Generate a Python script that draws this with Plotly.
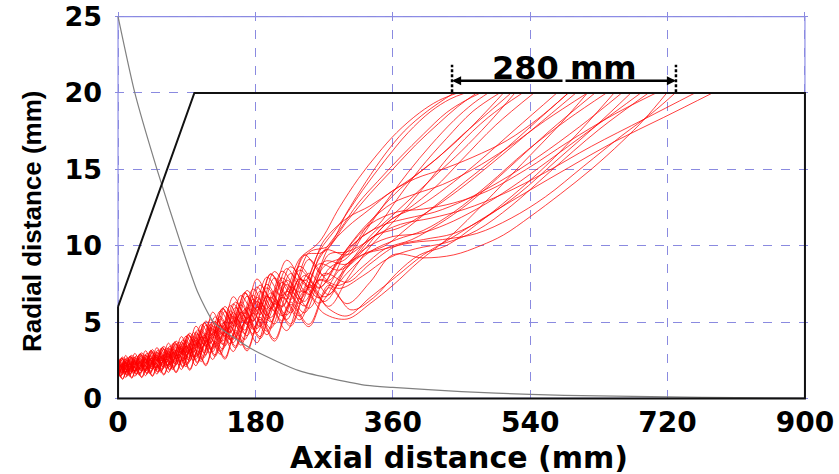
import plotly.graph_objects as go

# ---------------- data ----------------
X_TICKS = [0, 180, 360, 540, 720, 900]
Y_TICKS = [0, 5, 10, 15, 20, 25]

# guide wall (boundary) of the device
WALL_X = [0, 100, 900, 900, 0, 0]
WALL_Y = [6, 20, 20, 0, 0, 6]

# grey decaying profile
PROFILE_X = [0, 22, 51, 83, 104, 125, 151, 180, 238, 326, 360, 450, 540, 630, 720, 810, 900]
PROFILE_Y = [25, 20, 15, 10, 7.0, 5.0, 4.0, 3.1, 1.8, 0.85, 0.72, 0.45, 0.26, 0.16, 0.10, 0.05, 0.02]

# early (gyrating) part of the trajectories: positions of the wiggle extrema
GRID_A = [0, 6, 12, 18, 24, 31, 38, 45, 52, 60, 68, 76, 85, 94, 104, 115, 127, 140, 154, 169, 186, 205, 226, 250, 276]
GRID_B = [0, 3, 9, 15, 21, 28, 35, 42, 49, 56, 64, 72, 80, 89, 99, 109, 121, 134, 147, 161, 177, 195, 215, 238, 263]
GRID_C = [0, 5, 10, 16, 22, 29, 36, 43, 51, 58, 66, 74, 83, 92, 102, 113, 124, 137, 151, 166, 182, 200, 221, 244, 270]

TRAJ_GRID = ["A", "B", "C", "A", "B", "C", "A", "B", "C", "A",
             "B", "C", "A", "B", "C", "A", "B", "C", "A", "B",
             "C", "A", "B", "C", "A", "B", "C", "A", "B", "C"]

TRAJ_EARLY_Y = [
    [2.11, 2.71, 2.17, 2.83, 2.30, 2.99, 2.41, 3.20, 2.57, 3.41, 2.76, 3.76, 3.08, 4.28, 3.55, 5.07, 4.25, 6.02, 5.04, 7.07, 5.89, 8.31, 6.91, 9.55, 10.0],
    [2.53, 1.93, 2.59, 2.04, 2.70, 2.14, 2.85, 2.28, 3.04, 2.43, 3.31, 2.66, 3.70, 2.98, 4.32, 3.50, 5.15, 4.19, 6.08, 4.97, 7.16, 5.85, 8.33, 6.95, 9.58],
    [1.99, 2.65, 2.05, 2.77, 2.17, 2.91, 2.27, 3.13, 2.42, 3.33, 2.59, 3.67, 2.89, 4.18, 3.33, 4.95, 3.98, 5.88, 4.73, 6.90, 5.53, 8.13, 6.52, 9.35, 9.60],
    [2.21, 1.61, 2.26, 1.70, 2.35, 1.78, 2.47, 1.89, 2.63, 2.01, 2.88, 2.20, 3.21, 2.45, 3.73, 2.87, 4.45, 3.43, 5.27, 4.10, 6.24, 4.87, 7.31, 5.90, 8.49],
    [1.82, 2.36, 1.87, 2.47, 1.98, 2.59, 2.06, 2.78, 2.20, 2.95, 2.36, 3.26, 2.63, 3.70, 3.02, 4.37, 3.61, 5.20, 4.30, 6.12, 5.05, 7.24, 5.99, 8.40, 7.21],
    [2.75, 2.15, 2.82, 2.28, 2.95, 2.40, 3.12, 2.56, 3.33, 2.73, 3.62, 2.98, 4.05, 3.36, 4.73, 3.96, 5.65, 4.73, 6.66, 5.59, 7.82, 6.55, 9.05, 7.70, 10.35],
    [1.48, 2.08, 1.52, 2.16, 1.60, 2.26, 1.65, 2.42, 1.76, 2.57, 1.89, 2.85, 2.10, 3.22, 2.39, 3.80, 2.85, 4.51, 3.42, 5.33, 4.04, 6.35, 4.88, 7.45, 6.03],
    [2.30, 1.70, 2.35, 1.80, 2.45, 1.88, 2.58, 2.00, 2.75, 2.13, 3.00, 2.33, 3.35, 2.60, 3.90, 3.05, 4.65, 3.65, 5.50, 4.35, 6.50, 5.15, 7.60, 6.20, 8.80],
    [1.34, 1.94, 1.37, 2.02, 1.45, 2.10, 1.49, 2.25, 1.59, 2.39, 1.70, 2.65, 1.89, 2.99, 2.14, 3.52, 2.55, 4.19, 3.07, 4.96, 3.64, 5.93, 4.44, 7.00, 5.56],
    [2.48, 1.88, 2.54, 1.99, 2.65, 2.09, 2.80, 2.22, 2.98, 2.37, 3.25, 2.59, 3.63, 2.90, 4.23, 3.41, 5.05, 4.08, 5.96, 4.85, 7.03, 5.71, 8.18, 6.80, 9.42],
    [1.54, 2.20, 1.58, 2.29, 1.67, 2.39, 1.73, 2.57, 1.84, 2.73, 1.97, 3.02, 2.19, 3.42, 2.50, 4.04, 2.98, 4.80, 3.57, 5.66, 4.21, 6.73, 5.07, 7.85, 6.24],
    [2.35, 1.75, 2.40, 1.85, 2.50, 1.93, 2.63, 2.06, 2.81, 2.19, 3.06, 2.40, 3.42, 2.68, 3.98, 3.14, 4.75, 3.76, 5.62, 4.47, 6.63, 5.29, 7.75, 6.35, 8.96],
    [1.97, 2.57, 2.03, 2.69, 2.15, 2.83, 2.24, 3.04, 2.40, 3.23, 2.57, 3.56, 2.87, 4.06, 3.30, 4.80, 3.95, 5.70, 4.70, 6.69, 5.49, 7.89, 6.47, 9.10, 7.73],
    [2.00, 1.46, 2.04, 1.54, 2.12, 1.60, 2.23, 1.69, 2.37, 1.81, 2.59, 1.98, 2.89, 2.19, 3.35, 2.56, 3.99, 3.07, 4.73, 3.69, 5.62, 4.40, 6.63, 5.40, 7.77],
    [1.66, 2.26, 1.70, 2.35, 1.80, 2.47, 1.87, 2.64, 1.99, 2.81, 2.14, 3.11, 2.38, 3.52, 2.72, 4.16, 3.25, 4.94, 3.88, 5.83, 4.57, 6.91, 5.46, 8.05, 6.65],
    [1.90, 1.30, 1.93, 1.37, 2.00, 1.41, 2.09, 1.50, 2.23, 1.59, 2.44, 1.75, 2.72, 1.92, 3.15, 2.23, 3.75, 2.68, 4.46, 3.23, 5.31, 3.89, 6.30, 4.85, 7.41],
    [1.84, 2.44, 1.89, 2.54, 2.00, 2.68, 2.08, 2.87, 2.22, 3.05, 2.39, 3.37, 2.66, 3.83, 3.05, 4.52, 3.65, 5.37, 4.35, 6.32, 5.10, 7.47, 6.04, 8.65, 7.27],
    [2.12, 1.52, 2.16, 1.61, 2.25, 1.67, 2.36, 1.78, 2.52, 1.89, 2.75, 2.07, 3.07, 2.30, 3.57, 2.69, 4.25, 3.22, 5.04, 3.85, 5.97, 4.59, 7.02, 5.60, 8.18],
    [1.70, 2.30, 1.75, 2.40, 1.85, 2.52, 1.92, 2.70, 2.05, 2.87, 2.20, 3.17, 2.45, 3.60, 2.80, 4.25, 3.35, 5.05, 4.00, 5.95, 4.70, 7.05, 5.60, 8.20, 6.80],
    [1.99, 1.39, 2.02, 1.46, 2.10, 1.52, 2.20, 1.61, 2.34, 1.71, 2.57, 1.88, 2.86, 2.07, 3.32, 2.41, 3.95, 2.89, 4.69, 3.48, 5.58, 4.17, 6.59, 5.15, 7.72],
    [2.06, 2.66, 2.13, 2.78, 2.25, 2.94, 2.35, 3.15, 2.51, 3.35, 2.70, 3.69, 3.01, 4.21, 3.46, 4.98, 4.15, 5.91, 4.93, 6.94, 5.76, 8.17, 6.76, 9.40, 8.04],
    [1.85, 1.25, 1.88, 1.32, 1.95, 1.36, 2.04, 1.44, 2.17, 1.53, 2.38, 1.68, 2.65, 1.84, 3.07, 2.14, 3.65, 2.57, 4.34, 3.11, 5.18, 3.75, 6.15, 4.70, 7.25],
    [1.64, 2.18, 1.69, 2.27, 1.78, 2.39, 1.84, 2.56, 1.96, 2.71, 2.12, 3.00, 2.35, 3.40, 2.68, 4.01, 3.21, 4.76, 3.84, 5.62, 4.53, 6.68, 5.41, 7.80, 6.59],
    [2.53, 1.93, 2.59, 2.04, 2.70, 2.14, 2.85, 2.28, 3.04, 2.43, 3.31, 2.66, 3.70, 2.98, 4.32, 3.50, 5.05, 4.19, 6.20, 4.97, 7.30, 5.85, 8.50, 6.95, 9.70],
    [1.43, 2.03, 1.47, 2.11, 1.55, 2.21, 1.60, 2.36, 1.70, 2.51, 1.83, 2.78, 2.03, 3.14, 2.30, 3.70, 2.75, 4.40, 3.30, 5.21, 3.91, 6.21, 4.73, 7.30, 5.87],
    [2.39, 1.79, 2.44, 1.90, 2.55, 1.98, 2.69, 2.11, 2.87, 2.25, 3.12, 2.46, 3.49, 2.75, 4.07, 3.23, 4.85, 3.87, 5.73, 4.60, 6.76, 5.43, 7.89, 6.50, 9.11],
    [1.57, 2.17, 1.61, 2.26, 1.70, 2.36, 1.76, 2.53, 1.88, 2.69, 2.01, 2.98, 2.24, 3.37, 2.55, 3.98, 3.05, 4.73, 3.65, 5.58, 4.30, 6.63, 5.17, 7.75, 6.34],
    [2.62, 2.02, 2.68, 2.14, 2.80, 2.24, 2.96, 2.39, 3.16, 2.55, 3.43, 2.79, 3.84, 3.13, 4.48, 3.69, 5.35, 4.41, 6.31, 5.22, 7.42, 6.13, 8.62, 7.25, 9.89],
    [2.05, 2.59, 2.11, 2.71, 2.23, 2.85, 2.33, 3.06, 2.49, 3.25, 2.67, 3.59, 2.98, 4.08, 3.43, 4.83, 4.11, 5.74, 4.89, 6.74, 5.71, 7.94, 6.72, 9.15, 10.2],
    [2.26, 1.66, 2.30, 1.75, 2.40, 1.83, 2.53, 1.94, 2.69, 2.07, 2.94, 2.27, 3.28, 2.52, 3.82, 2.96, 4.55, 3.54, 5.38, 4.23, 6.37, 5.01, 7.46, 6.05, 8.65],
]

# later (drifting) part of each trajectory, ending on the wall at r = 20 mm
TRAJ_LATE_X = [
    [300, 325, 350, 375, 405, 440],
    [290, 320, 350, 380, 410, 435, 455],
    [300, 330, 360, 390, 420, 445, 470],
    [300, 325, 350, 380, 410, 440, 465, 485],
    [290, 315, 340, 365, 395, 430, 465, 500],
    [300, 330, 360, 390, 420, 450, 485, 515],
    [300, 325, 350, 380, 410, 445, 485, 530],
    [290, 320, 350, 380, 415, 450, 495, 545],
    [300, 330, 360, 395, 435, 480, 530, 580, 615],
    [300, 330, 360, 395, 430, 470, 520, 575],
    [290, 320, 350, 380, 415, 455, 500, 545, 590],
    [300, 335, 370, 405, 445, 490, 545, 600],
    [300, 330, 360, 390, 425, 465, 510, 560, 615],
    [290, 320, 350, 385, 420, 460, 510, 565, 625],
    [300, 330, 365, 400, 440, 485, 535, 590, 640],
    [305, 335, 365, 395, 430, 470, 515, 560, 605, 650],
    [290, 320, 350, 380, 415, 455, 500, 550, 605, 660],
    [300, 330, 365, 400, 440, 480, 525, 575, 625, 672],
    [300, 330, 360, 395, 430, 470, 515, 565, 625, 685],
    [290, 320, 355, 390, 430, 470, 515, 565, 630, 695],
    [300, 330, 365, 400, 440, 485, 535, 590, 650, 705],
    [300, 330, 360, 400, 440, 475, 505, 540, 580, 620, 660, 690, 719],
    [290, 320, 350, 385, 425, 470, 515, 560, 610, 660, 700, 730],
    [300, 335, 370, 410, 455, 505, 560, 620, 690, 756],
    [300, 330, 365, 400, 440, 485, 535, 590, 650, 715, 779],
    [290, 315, 340, 370, 400, 430, 455, 475],
    [300, 330, 360, 390, 420, 450, 485, 520],
    [300, 330, 360, 390, 425, 465, 510, 550, 590],
    [290, 315, 340, 365, 395, 420, 445],
    [300, 325, 355, 385, 415, 445, 475, 505],
]
TRAJ_LATE_Y = [
    [12.2, 14.2, 16.0, 17.5, 18.8, 20],
    [11.4, 13.6, 15.6, 17.4, 18.8, 19.6, 20],
    [11.6, 13.4, 15.0, 16.6, 18.0, 19.1, 20],
    [9.2, 11.0, 12.8, 14.8, 16.6, 18.2, 19.3, 20],
    [9.2, 10.4, 11.3, 13.0, 15.0, 17.0, 18.8, 20],
    [11.8, 12.6, 13.6, 14.6, 15.8, 17.2, 18.7, 20],
    [7.8, 9.6, 11.0, 12.6, 14.4, 16.5, 18.4, 20],
    [8.4, 9.6, 11.4, 12.4, 13.8, 15.6, 17.9, 20],
    [5.2, 6.2, 7.4, 9.0, 10.6, 12.8, 15.4, 18.0, 20],
    [9.6, 10.4, 11.8, 12.6, 13.8, 15.4, 17.6, 20],
    [8.0, 9.4, 10.0, 11.2, 12.6, 14.2, 16.0, 18.0, 20],
    [8.8, 10.6, 11.2, 12.2, 13.6, 15.4, 17.7, 20],
    [9.8, 11.6, 12.8, 13.4, 14.0, 15.0, 16.4, 18.2, 20],
    [7.4, 8.6, 9.8, 10.4, 11.4, 12.8, 15.0, 17.5, 20],
    [8.2, 9.6, 10.4, 11.0, 12.2, 14.0, 16.2, 18.3, 20],
    [5.8, 6.6, 8.2, 9.4, 10.0, 11.4, 13.2, 15.2, 17.5, 20],
    [9.0, 10.6, 11.4, 11.8, 12.2, 13.0, 14.2, 15.8, 17.8, 20],
    [7.6, 8.8, 10.0, 10.4, 10.8, 11.8, 13.4, 15.6, 17.8, 20],
    [8.8, 10.0, 10.6, 10.8, 11.4, 12.4, 13.8, 15.6, 17.8, 20],
    [7.2, 8.0, 9.2, 9.8, 10.2, 11.0, 12.6, 14.8, 17.6, 20],
    [9.8, 11.4, 12.2, 12.4, 12.8, 13.6, 15.0, 16.8, 18.6, 20],
    [6.2, 7.6, 9.4, 9.2, 9.4, 10.0, 10.7, 11.9, 13.4, 15.0, 16.8, 18.3, 20],
    [8.4, 9.4, 9.8, 10.2, 10.4, 10.8, 11.8, 13.2, 15.2, 17.2, 18.7, 20],
    [9.4, 10.6, 11.4, 11.8, 12.4, 13.4, 14.8, 16.5, 18.3, 20],
    [5.4, 6.6, 8.0, 9.4, 10.6, 12.0, 13.5, 15.1, 16.8, 18.4, 20],
    [11.0, 12.8, 14.2, 15.8, 17.3, 18.7, 19.5, 20],
    [8.6, 10.6, 12.0, 13.4, 14.8, 16.2, 18.0, 20],
    [11.2, 12.4, 13.6, 14.4, 15.0, 15.8, 16.9, 18.3, 20],
    [12.5, 14.4, 16.0, 17.4, 18.7, 19.5, 20],
    [9.4, 11.2, 13.0, 14.4, 15.6, 16.9, 18.4, 20],
]

SPAN_START, SPAN_END, SPAN_LEVEL = 437.6, 731.0, 20.8
SPAN_LABEL = "280 mm"

GRIDS = {"A": GRID_A, "B": GRID_B, "C": GRID_C}

# ---------------- figure ----------------
fig = go.Figure()

for g, ey, lx, ly in zip(TRAJ_GRID, TRAJ_EARLY_Y, TRAJ_LATE_X, TRAJ_LATE_Y):
    fig.add_trace(go.Scatter(
        x=GRIDS[g] + lx, y=ey + ly, mode="lines",
        line=dict(color="rgba(255,0,0,0.75)", width=1, shape="spline", smoothing=1.0),
        hoverinfo="skip", showlegend=False))

fig.add_trace(go.Scatter(
    x=PROFILE_X, y=PROFILE_Y, mode="lines",
    line=dict(color="#808080", width=1.2, shape="spline", smoothing=0.6),
    hoverinfo="skip", showlegend=False))

fig.add_trace(go.Scatter(
    x=WALL_X, y=WALL_Y, mode="lines",
    line=dict(color="#111111", width=2),
    hoverinfo="skip", showlegend=False))

grid_col = "#8a8ae0"
fig.update_xaxes(range=[-4, 904], tickvals=X_TICKS, ticktext=[str(v) for v in X_TICKS],
                 showgrid=True, gridcolor=grid_col, griddash="dash", gridwidth=1,
                 zeroline=False, showline=False, ticks="", ticklabelstandoff=0,
                 automargin=False,
                 tickfont=dict(family="DejaVu Sans", size=28, color="black", weight="bold"))
fig.update_yaxes(range=[-0.3, 25.3], tickvals=Y_TICKS, ticktext=[str(v) for v in Y_TICKS],
                 showgrid=True, gridcolor=grid_col, griddash="dash", gridwidth=1,
                 zeroline=False, showline=False, ticks="", ticklabelstandoff=12,
                 automargin=False,
                 tickfont=dict(family="DejaVu Sans", size=27, color="black", weight="bold"))

# frame (thin blue)
fig.add_shape(type="rect", x0=0, x1=900, y0=0, y1=25, xref="x", yref="y",
              line=dict(color="#8c8ce6", width=1.2), layer="below")

# dimension marker
for xv in (SPAN_START, SPAN_END):
    fig.add_shape(type="line", x0=xv, x1=xv, y0=20.05, y1=21.85, xref="x", yref="y",
                  line=dict(color="black", width=2.5, dash="3px,2px"))
mid = (SPAN_START + SPAN_END) / 2
for xv in (SPAN_START, SPAN_END):
    fig.add_annotation(x=xv, y=SPAN_LEVEL, ax=mid, ay=SPAN_LEVEL, axref="x", ayref="y",
                       xref="x", yref="y", text="", showarrow=True,
                       arrowhead=2, arrowsize=0.7, arrowwidth=2.6, arrowcolor="black")
fig.add_annotation(x=585, y=21.65, xref="x", yref="y", text=SPAN_LABEL, showarrow=False,
                   font=dict(family="DejaVu Sans", size=32, color="black", weight="bold"),
                   yanchor="middle")

# axis titles
fig.add_annotation(x=0.497, y=-0.14, xref="paper", yref="paper", text="Axial distance (mm)",
                   showarrow=False, yanchor="middle",
                   font=dict(family="DejaVu Sans", size=30, color="black", weight="bold"))
fig.add_annotation(x=-0.12, y=0.465, xref="paper", yref="paper", text="Radial distance (mm)",
                   showarrow=False, textangle=-90, xanchor="center", yanchor="middle",
                   font=dict(family="Liberation Sans", size=26, color="black", weight="bold"))

fig.update_layout(width=839, height=474, margin=dict(l=115, r=31, t=12, b=71),
                  plot_bgcolor="white", paper_bgcolor="white")

fig.write_html("out.html")
